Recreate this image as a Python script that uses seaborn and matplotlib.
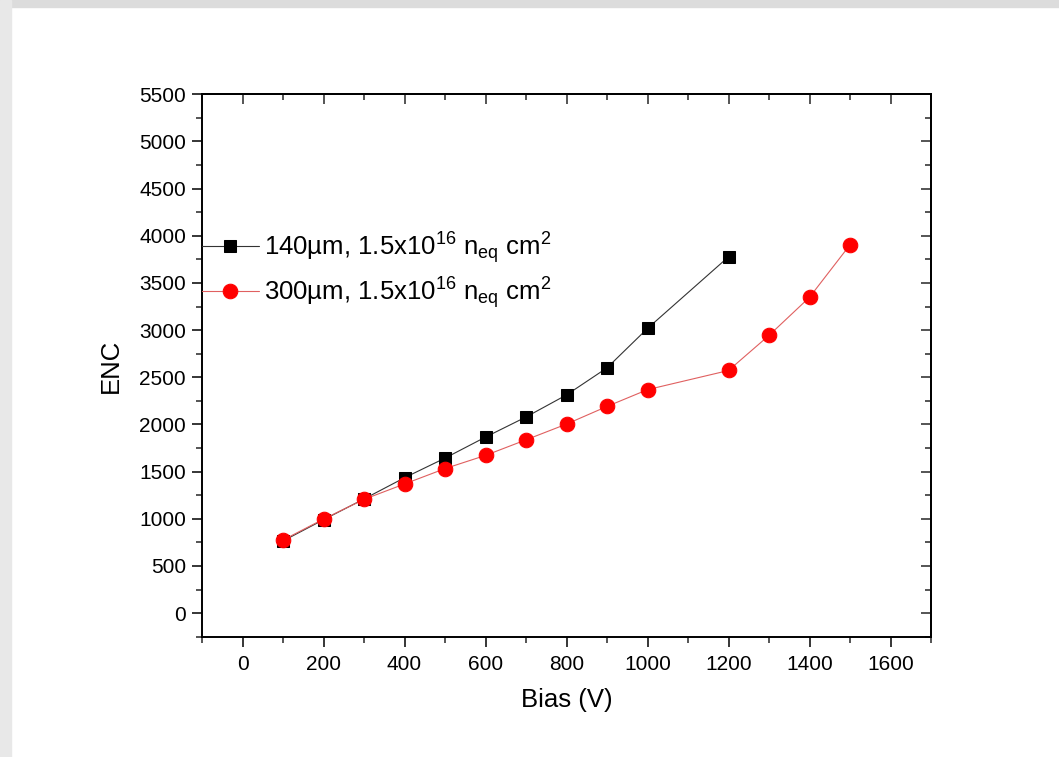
import matplotlib
matplotlib.use("Agg")
import matplotlib.pyplot as plt
import matplotlib.ticker as tck
from matplotlib.patches import Rectangle
import pandas as pd
import seaborn as sns

# data
bias_140 = [100, 200, 300, 400, 500, 600, 700, 800, 900, 1000, 1200]
enc_140 = [765, 990, 1210, 1435, 1643, 1866, 2079, 2313, 2600, 3018, 3777]
bias_300 = [100, 200, 300, 400, 500, 600, 700, 800, 900, 1000, 1200, 1300, 1400, 1500]
enc_300 = [775, 997, 1206, 1369, 1532, 1672, 1837, 2004, 2191, 2369, 2572, 2944, 3348, 3904]
label_140 = r"140µm, 1.5x10$^{16}$ n$_{\mathrm{eq}}$ cm$^{2}$"
label_300 = r"300µm, 1.5x10$^{16}$ n$_{\mathrm{eq}}$ cm$^{2}$"

sns.set_style("white")
plt.rcParams['font.family'] = ['Liberation Sans', 'DejaVu Sans']
plt.rcParams['mathtext.fontset'] = 'custom'
plt.rcParams['mathtext.rm'] = 'Liberation Sans'
plt.rcParams['mathtext.it'] = 'Liberation Sans:italic'
plt.rcParams['text.color'] = 'black'
plt.rcParams['axes.labelcolor'] = 'black'

df140 = pd.DataFrame({"bias": bias_140, "enc": enc_140})
df300 = pd.DataFrame({"bias": bias_300, "enc": enc_300})

fig = plt.figure(figsize=(10.59, 7.57), dpi=100)
# grey frame at top and left like the screenshot
fig.patches.append(Rectangle((0, 1 - 7 / 757), 1, 7 / 757, transform=fig.transFigure,
                             color="#dcdcdc", zorder=-10))
fig.patches.append(Rectangle((0, 0), 11 / 1059, 1, transform=fig.transFigure,
                             color="#e8e8e8", zorder=-10))

ax = fig.add_axes([202 / 1059, 1 - 636.7 / 757, (931 - 202) / 1059, (636.7 - 94.3) / 757])

sns.lineplot(data=df140, x="bias", y="enc", ax=ax, color="#333333", lw=0.8,
             marker="s", markersize=9, markerfacecolor="black", markeredgecolor="black",
             label=label_140)
sns.lineplot(data=df300, x="bias", y="enc", ax=ax, color="#e06060", lw=0.8,
             marker="o", markersize=10.5, markerfacecolor="#ff0000", markeredgecolor="#ff0000",
             label=label_300)

ax.set_xlim(-100, 1700)
ax.set_ylim(-250, 5500)
ax.xaxis.set_major_locator(tck.MultipleLocator(200))
ax.xaxis.set_minor_locator(tck.MultipleLocator(100))
ax.yaxis.set_major_locator(tck.MultipleLocator(500))
ax.yaxis.set_minor_locator(tck.MultipleLocator(250))
ax.tick_params(which="major", direction="out", length=7.5, width=1.1, labelsize=15,
               colors="black", pad=4, left=True, bottom=True)
ax.tick_params(axis="x", which="major", pad=6)
ax.tick_params(which="minor", direction="out", length=4, width=1.1, left=True, bottom=True)
for s in ax.spines.values():
    s.set_linewidth(1.4)
    s.set_color("black")

# inward ticks on top and right
top = ax.secondary_xaxis("top")
top.xaxis.set_major_locator(tck.MultipleLocator(200))
top.xaxis.set_minor_locator(tck.MultipleLocator(100))
top.tick_params(which="major", direction="in", length=7.5, width=1.1, labeltop=False)
top.tick_params(which="minor", direction="in", length=4, width=1.1)
right = ax.secondary_yaxis("right")
right.yaxis.set_major_locator(tck.MultipleLocator(500))
right.yaxis.set_minor_locator(tck.MultipleLocator(250))
right.tick_params(which="major", direction="in", length=7.5, width=1.1, labelright=False)
right.tick_params(which="minor", direction="in", length=4, width=1.1)
for sec in (top, right):
    for s in sec.spines.values():
        s.set_linewidth(1.4)

ax.set_xlabel("Bias (V)", fontsize=18.5, labelpad=10)
ax.set_ylabel("ENC", fontsize=18.5, labelpad=12)

ax.legend(loc="upper left", bbox_to_anchor=(0.0, 0.75), frameon=False, fontsize=18.5,
          handlelength=2.2, handletextpad=0.2, labelspacing=0.35, borderaxespad=0,
          borderpad=0)

fig.savefig("out.png", dpi=100, facecolor="white")
